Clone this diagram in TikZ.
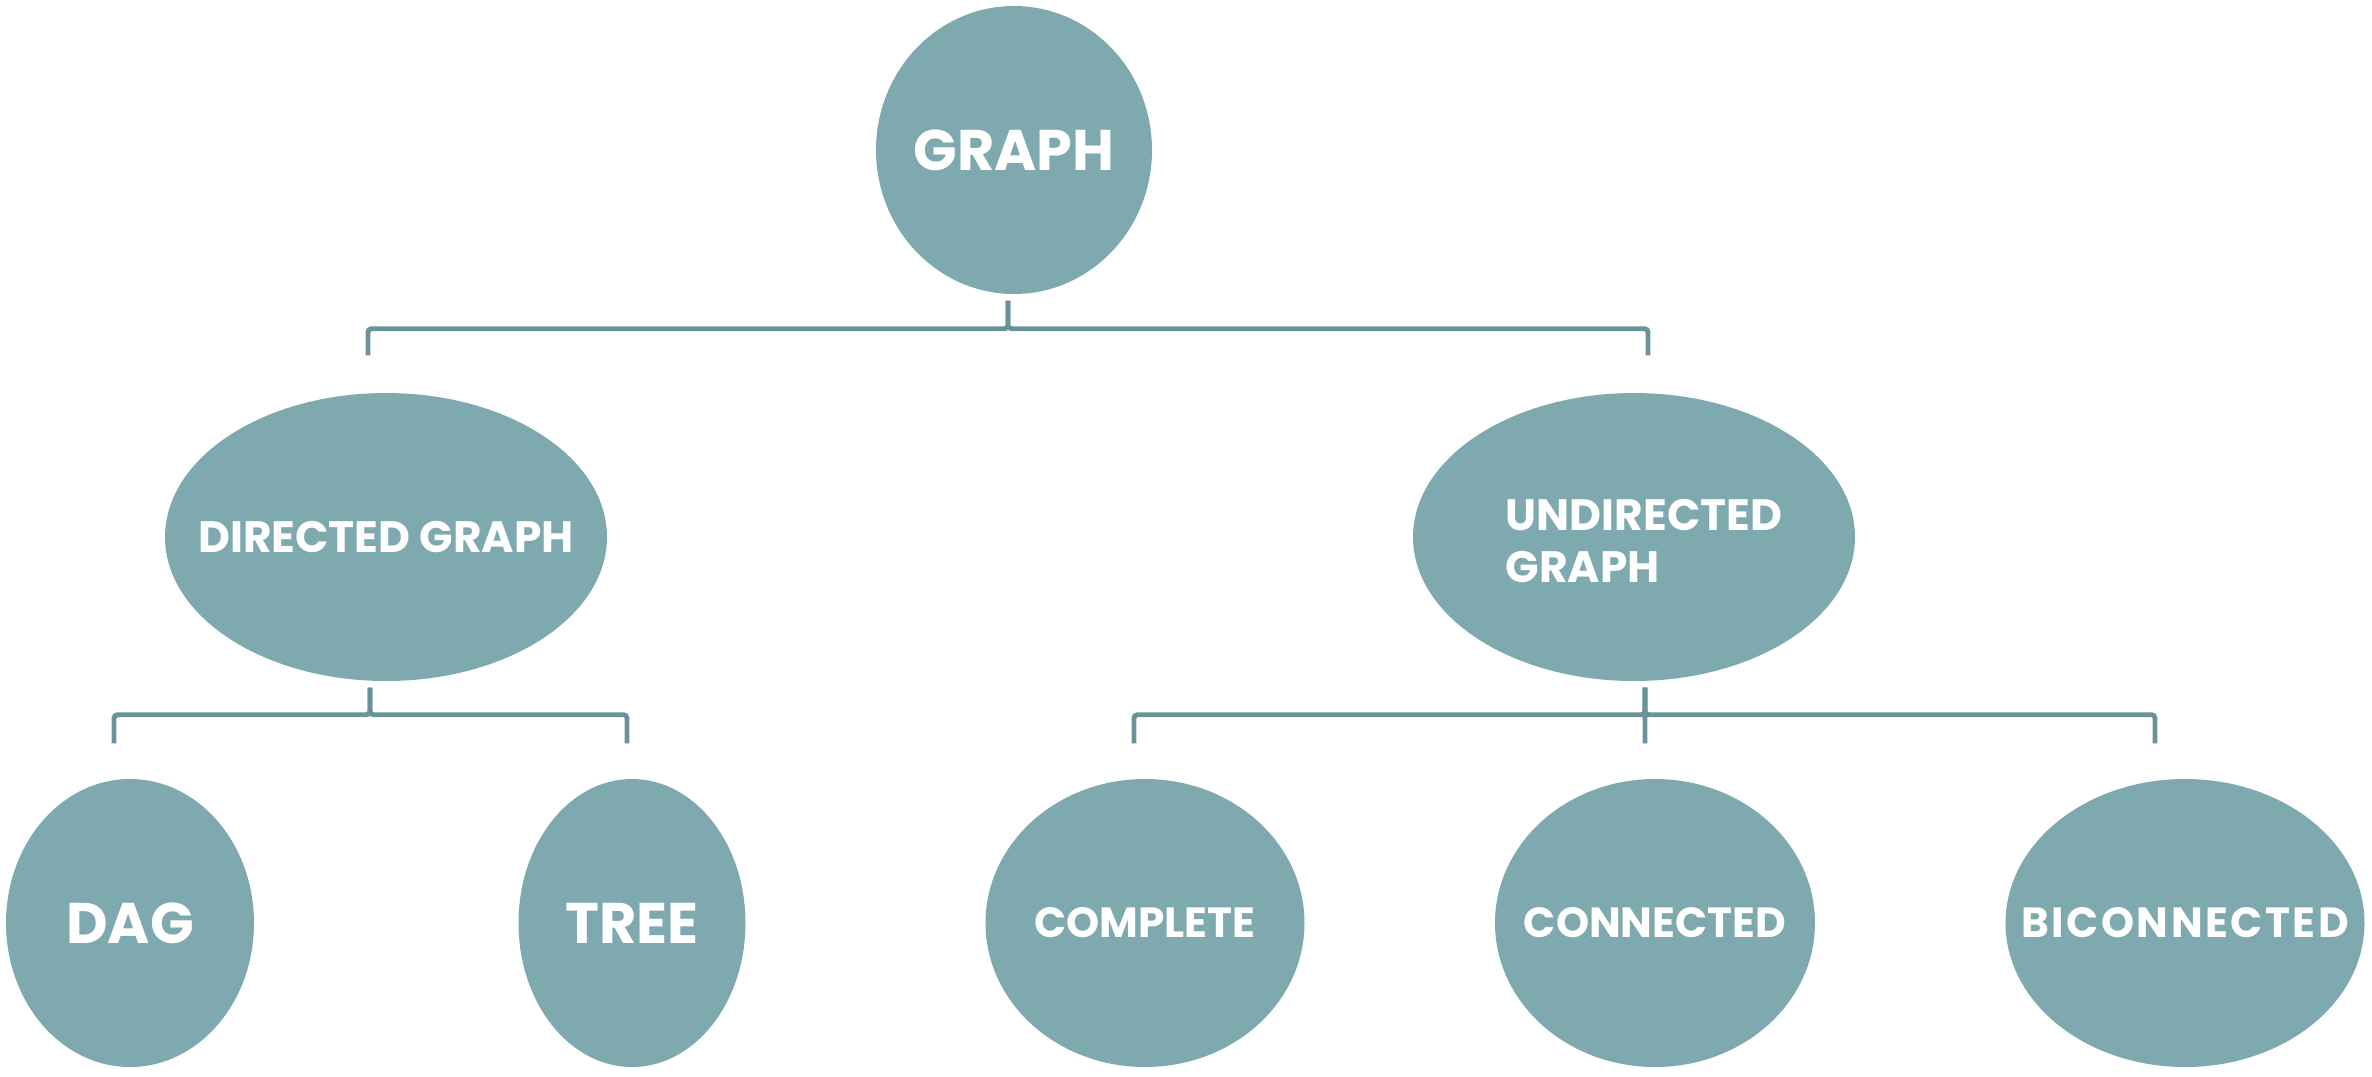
\documentclass[tikz,border=0pt]{standalone}
\usepackage{fontspec}
\usepackage{tikz}
\usetikzlibrary{shapes.geometric, positioning}
\newfontfamily\labelfont{Poppins}
\definecolor{tealfill}{RGB}{126,169,175}
\definecolor{tealline}{RGB}{106,147,153}
% keep the ellipse size fixed by its minimum size, not by the text
\newcommand{\nowidth}[1]{\makebox[0pt]{#1}}

\begin{document}
\begin{tikzpicture}[
    bubble/.style={
        ellipse,
        fill=tealfill,
        inner sep=0pt,
        align=center,
        text=white,
        minimum height=2.88cm
    },
    bigtext/.style={
        font=\labelfont\bfseries\fontsize{16.3}{19}\selectfont
    },
    midtext/.style={
        font=\labelfont\bfseries\fontsize{12.5}{15}\selectfont
    },
    smalltext/.style={
        font=\labelfont\bfseries\fontsize{12}{15}\selectfont
    },
    link/.style={
        draw=tealline,
        line width=1.4pt,
        rounded corners=1pt
    }
]
\useasboundingbox (0,0) rectangle (23.72,-10.76);

% Nodes
\node (graph) [bubble, bigtext, minimum width=2.76cm] at (10.14,-1.50) {\nowidth{GRAPH}};
\node (directed) [bubble, midtext, minimum width=4.42cm] at (3.86,-5.37) {\nowidth{DIRECTED GRAPH}};
\node (undirected) [bubble, midtext, minimum width=4.42cm] at (16.34,-5.37)
    {\nowidth{\hspace{0.2cm}\raisebox{-0.09cm}[\height][\depth]{\begin{tabular}{@{}l@{}}UNDIRECTED\\GRAPH\end{tabular}}}};
\node (dag) [bubble, bigtext, minimum width=2.48cm] at (1.30,-9.23) {\nowidth{DAG}};
\node (tree) [bubble, bigtext, minimum width=2.27cm] at (6.32,-9.23) {\nowidth{TREE}};
\node (complete) [bubble, smalltext, minimum width=3.19cm] at (11.45,-9.23) {\nowidth{COMPLETE}};
\node (connected) [bubble, smalltext, minimum width=3.20cm] at (16.55,-9.23) {\nowidth{CONNECTED}};
\node (biconnected) [bubble, smalltext, minimum width=3.59cm] at (21.85,-9.23)
    {\nowidth{\addfontfeature{LetterSpace=6}BICONNECTED}};

% Paths
\draw [link] ([xshift=-0.06cm, yshift=-0.06cm]graph.south) -- ++(0,-0.28) -| ([xshift=-0.18cm, yshift=0.37cm]directed.north);
\draw [link] ([xshift=-0.06cm, yshift=-0.06cm]graph.south) -- ++(0,-0.28) -| ([xshift=0.14cm, yshift=0.37cm]undirected.north);
\draw [link] ([xshift=-0.16cm, yshift=-0.06cm]directed.south) -- ++(0,-0.27) -| ([xshift=-0.16cm, yshift=0.35cm]dag.north);
\draw [link] ([xshift=-0.16cm, yshift=-0.06cm]directed.south) -- ++(0,-0.27) -| ([xshift=-0.05cm, yshift=0.35cm]tree.north);
\draw [link] ([xshift=0.11cm, yshift=-0.06cm]undirected.south) -- ++(0,-0.27) -| ([xshift=-0.11cm, yshift=0.35cm]complete.north);
\draw [link] ([xshift=0.11cm, yshift=-0.06cm]undirected.south) -- ([xshift=-0.10cm, yshift=0.35cm]connected.north);
\draw [link] ([xshift=0.11cm, yshift=-0.06cm]undirected.south) -- ++(0,-0.27) -| ([xshift=-0.30cm, yshift=0.35cm]biconnected.north);

\end{tikzpicture}
\end{document}
